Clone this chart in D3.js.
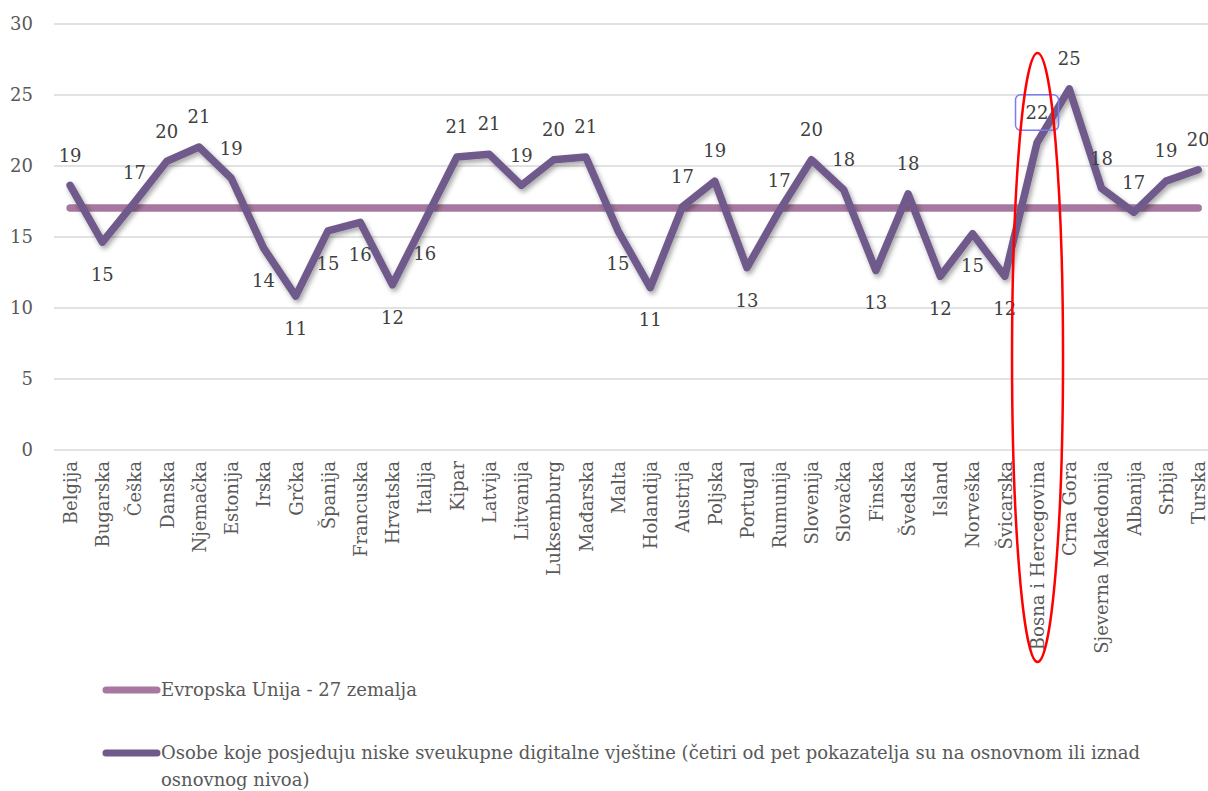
<!DOCTYPE html>
<html lang="bs">
<head>
<meta charset="utf-8">
<script src="https://cdn.jsdelivr.net/npm/d3@7"></script>
<style>
  html, body { margin: 0; padding: 0; background: #ffffff; }
  svg { display: block; font-family: "DejaVu Serif", serif; }
</style>
</head>
<body>
<svg id="chart" width="1208" height="791"></svg>
<script>
// Countries along the x axis
const categories = [
  "Belgija", "Bugarska", "Češka", "Danska", "Njemačka", "Estonija", "Irska", "Grčka",
  "Španija", "Francuska", "Hrvatska", "Italija", "Kipar", "Latvija", "Litvanija",
  "Luksemburg", "Mađarska", "Malta", "Holandija", "Austrija", "Poljska", "Portugal",
  "Rumunija", "Slovenija", "Slovačka", "Finska", "Švedska", "Island", "Norveška",
  "Švicarska", "Bosna i Hercegovina", "Crna Gora", "Sjeverna Makedonija", "Albanija",
  "Srbija", "Turska"
];

// Share of persons with low overall digital skills (%)
const lowSkills = [
  18.6, 14.6, 17.4, 20.3, 21.3, 19.1, 14.2, 10.8,
  15.4, 16.0, 11.6, 16.1, 20.6, 20.8, 18.6,
  20.4, 20.6, 15.4, 11.4, 17.1, 18.9, 12.8,
  16.8, 20.4, 18.3, 12.6, 18.0, 12.2, 15.2,
  12.2, 21.6, 25.4, 18.4, 16.7,
  18.9, 19.7
];

// EU-27 average
const euAverage = [
  17, 17, 17, 17, 17, 17, 17, 17,
  17, 17, 17, 17, 17, 17, 17,
  17, 17, 17, 17, 17, 17, 17,
  17, 17, 17, 17, 17, 17, 17,
  17, 17, 17, 17, 17,
  17, 17
];

// Where each value label sits relative to its point
const labelSide = [
  "above", "below", "above", "above", "above", "above", "below", "below",
  "below", "below", "below", "below", "above", "above", "above",
  "above", "above", "below", "below", "above", "above", "below",
  "above", "above", "above", "below", "above", "below", "below",
  "below", "above", "above", "above", "above",
  "above", "above"
];

const yTicks = [0, 5, 10, 15, 20, 25, 30];

const legendItems = [
  "Evropska Unija - 27 zemalja",
  "Osobe koje posjeduju niske sveukupne digitalne vještine (četiri od pet pokazatelja su na osnovnom ili iznad osnovnog nivoa)"
];

const highlighted = "Bosna i Hercegovina";

const colors = { eu: "#a7789f", low: "#6f5a8b", grid: "#d9d9d9", label: "#404040", axis: "#595959" };
const fontSize = 18;

const svg = d3.select("#chart");

const x = d3.scalePoint().domain(categories).range([54, 1214.3]).padding(0.5);
const y = d3.scaleLinear().domain([0, 30]).range([449.5, 23.5]);

// soft drop shadow under the main series
const defs = svg.append("defs");
const shadow = defs.append("filter").attr("id", "shadow")
  .attr("x", "-5%").attr("y", "-20%").attr("width", "110%").attr("height", "140%");
shadow.append("feDropShadow")
  .attr("dx", 2).attr("dy", 3).attr("stdDeviation", 2.5)
  .attr("flood-color", "#000").attr("flood-opacity", 0.35);

// horizontal gridlines and y tick labels
const yAxis = d3.axisLeft(y).tickValues(yTicks).tickSize(-1160).tickPadding(21);
const gy = svg.append("g").attr("transform", "translate(54,0)").call(yAxis);
gy.select(".domain").remove();
gy.selectAll(".tick line").attr("stroke", colors.grid).attr("stroke-width", 1.5);
gy.selectAll(".tick text")
  .attr("fill", colors.axis).attr("font-size", fontSize)
  .attr("font-family", "DejaVu Serif, serif");

// category labels, rotated
const xAxis = d3.axisBottom(x).tickSize(0).tickPadding(0);
const gx = svg.append("g").attr("transform", "translate(0,461)").call(xAxis);
gx.select(".domain").remove();
gx.selectAll(".tick text")
  .attr("fill", colors.axis).attr("font-size", fontSize)
  .attr("font-family", "DejaVu Serif, serif")
  .attr("text-anchor", "end")
  .attr("transform", "rotate(-90)")
  .attr("x", 0).attr("y", 0).attr("dy", "0.35em");

const line = d3.line()
  .x((d, i) => x(categories[i]))
  .y(d => y(d));

svg.append("path")
  .datum(euAverage)
  .attr("d", line)
  .attr("fill", "none")
  .attr("stroke", colors.eu)
  .attr("stroke-width", 7.5)
  .attr("stroke-linecap", "round");

svg.append("path")
  .datum(lowSkills)
  .attr("d", line)
  .attr("fill", "none")
  .attr("stroke", colors.low)
  .attr("stroke-width", 7.5)
  .attr("stroke-linejoin", "round")
  .attr("stroke-linecap", "round")
  .attr("filter", "url(#shadow)");

// value labels
svg.append("g").selectAll("text")
  .data(lowSkills)
  .join("text")
  .attr("x", (d, i) => x(categories[i]))
  .attr("y", (d, i) => y(d) + (labelSide[i] === "above" ? -30 : 32.5))
  .attr("dy", "0.35em")
  .attr("text-anchor", "middle")
  .attr("font-size", fontSize)
  .attr("fill", colors.label)
  .text(d => d3.format(".0f")(d));

// highlight for Bosnia and Herzegovina
const hi = categories.indexOf(highlighted);
const hx = x(highlighted);
const hy = y(lowSkills[hi]) - 30;
svg.append("rect")
  .attr("x", hx - 21.5).attr("y", hy - 18)
  .attr("width", 43).attr("height", 35.5)
  .attr("rx", 5)
  .attr("fill", "none")
  .attr("stroke", "#7b7bf2")
  .attr("stroke-width", 1.5);

svg.append("ellipse")
  .attr("cx", hx + 0.5).attr("cy", 357.5)
  .attr("rx", 25.5).attr("ry", 304.5)
  .attr("fill", "none")
  .attr("stroke", "#ff0000")
  .attr("stroke-width", 2.5);

// legend
const legend = svg.append("g");
const legendRows = [
  { color: colors.eu, y: 690, lines: [legendItems[0]] },
  { color: colors.low, y: 753, lines: [
      "Osobe koje posjeduju niske sveukupne digitalne vještine (četiri od pet pokazatelja su na osnovnom ili iznad",
      "osnovnog nivoa)"
    ] }
];
legendRows.forEach(row => {
  legend.append("line")
    .attr("x1", 106).attr("x2", 157)
    .attr("y1", row.y).attr("y2", row.y)
    .attr("stroke", row.color)
    .attr("stroke-width", 7)
    .attr("stroke-linecap", "round");
  const t = legend.append("text")
    .attr("x", 161).attr("y", row.y)
    .attr("font-size", fontSize)
    .attr("fill", colors.axis);
  row.lines.forEach((ln, k) => {
    t.append("tspan")
      .attr("x", 161)
      .attr("dy", k === 0 ? "0.35em" : 27)
      .text(ln);
  });
});
</script>
</body>
</html>
